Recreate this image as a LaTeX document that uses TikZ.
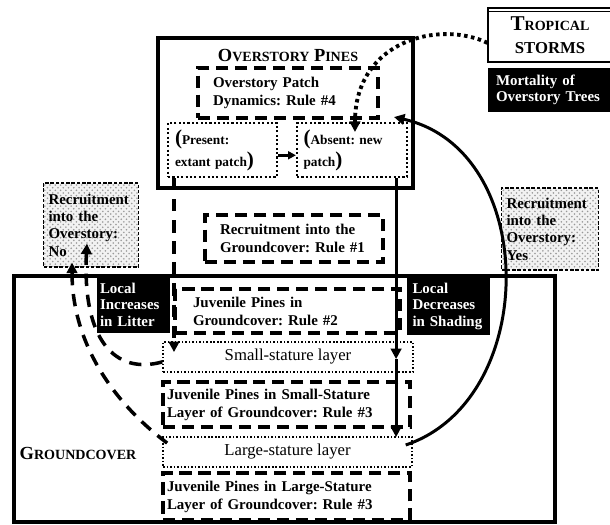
\documentclass[tikz,border=0pt]{standalone}
\usepackage{fontspec}
\setmainfont{Liberation Serif}
\usepackage{tikz}
\usetikzlibrary{arrows.meta}
\usetikzlibrary{patterns}
\frenchspacing
\newcommand{\capL}[1]{{\fontsize{10.5}{12}\selectfont #1}}
\newcommand{\capS}[1]{{\fontsize{8}{12}\selectfont #1}}
\newcommand{\paren}[1]{{\fontsize{12}{12}\selectfont #1}}
\tikzset{bigbox/.style = {draw, line width=2.3pt, inner sep=0}}
\tikzset{rulebox/.style = {draw, line width=1.8pt, dash pattern=on 7pt off 3.8pt,
                           font=\bfseries\fontsize{8.5}{10.2}\selectfont, align=left, inner ysep=0}}
\tikzset{patchbox/.style = {draw, line width=1.2pt, dash pattern=on 1.2pt off 1.3pt,
                            font=\bfseries\fontsize{7.6}{12.5}\selectfont, align=left, inner ysep=0}}
\tikzset{layerbox/.style = {draw, line width=0.9pt, dash pattern=on 0.9pt off 1.1pt,
                            font=\fontsize{9.5}{11}\selectfont, inner sep=0}}
\tikzset{blackbox/.style = {fill=black, text=white, font=\bfseries\fontsize{8.5}{9.4}\selectfont,
                            align=left, inner ysep=0}}
\tikzset{recbox/.style = {draw, line width=0.6pt, dash pattern=on 2pt off 1pt,
                          preaction={fill=black!5}, pattern=crosshatch dots, pattern color=black!40,
                          font=\bfseries\fontsize{8.5}{9.9}\selectfont, align=left, inner ysep=0}}
\tikzset{flowline/.style = {line width=1.7pt}}
\tikzset{flowdash/.style = {line width=2pt, dash pattern=on 7pt off 5pt}}
\tikzset{flowdot/.style = {line width=2.2pt, dash pattern=on 2pt off 2pt}}
\tikzset{flowtip/.style = {-{Triangle[length=6pt,width=6pt]}}}

\begin{document}
\begin{tikzpicture}[x=0.02cm, y=-0.02cm]
  \useasboundingbox (0,0) rectangle (610,525);

  \node[bigbox, minimum width=5.1cm, minimum height=3cm] (pines) at (285.5,113) {};
  \node[font=\bfseries] (pinestitle) at (288,55) {\capL{O}\capS{VERSTORY} \capL{P}\capS{INES}};
  \node[rulebox, text width=3cm, inner xsep=0.3cm, minimum height=1cm] (patch) at (288,93)
    {Overstory Patch\\Dynamics: Rule \#4};
  \node[patchbox, text width=1.9cm, inner xsep=0.14cm, minimum height=1.08cm] (present) at (222.5,150)
    {\paren{(}Present:\\extant patch\paren{)}};
  \node[patchbox, text width=1.94cm, inner xsep=0.13cm, minimum height=1.08cm] (absent) at (352,150)
    {\paren{(}Absent: new\\patch\paren{)}};

  \node[draw, line width=0.6pt, minimum width=2.48cm, minimum height=1.08cm, align=center,
        font=\bfseries\fontsize{9}{13}\selectfont] (storms) at (550,35)
    {{\fontsize{12}{13}\selectfont T}\capS{ROPICAL}\\{\fontsize{9.5}{13}\selectfont STORMS}};
  \draw[line width=0.6pt] ([yshift=-2.3pt]storms.north west) -- ([yshift=-2.3pt]storms.north east);
  \node[blackbox, text width=2.12cm, inner xsep=0.16cm, minimum height=0.88cm] (mortality) at (549,90)
    {Mortality of\\Overstory Trees};

  \node[recbox, text width=1.7cm, inner xsep=0.1cm, minimum height=1.68cm] (recno) at (91,225)
    {Recruitment\\into the\\Overstory:\\No};
  \node[recbox, text width=1.74cm, inner xsep=0.1cm, minimum height=1.64cm] (recyes) at (550,229)
    {Recruitment\\into the\\Overstory:\\Yes};
  \node[rulebox, text width=2.96cm, inner xsep=0.3cm, minimum height=0.94cm] (rule1) at (294,238.5)
    {Recruitment into the\\Groundcover: Rule \#1};

  \node[bigbox, minimum width=10.82cm, minimum height=4.92cm] (ground) at (284.5,399) {};
  \node[font=\bfseries] (groundtitle) at (78,453) {\capL{G}\capS{ROUNDCOVER}};
  \node[blackbox, text width=1.34cm, inner xsep=0.06cm, minimum height=1.14cm] (litter) at (133.5,304.5)
    {Local\\Increases\\in Litter};
  \node[blackbox, text width=1.44cm, inner xsep=0.11cm, minimum height=1.16cm] (shading) at (448.5,306)
    {Local\\Decreases\\in Shading};
  \node[rulebox, text width=3.78cm, inner xsep=0.36cm, minimum height=0.88cm] (juvground) at (287.5,311)
    {Juvenile Pines in\\Groundcover: Rule \#2};
  \node[layerbox, minimum width=5cm, minimum height=0.6cm] (small) at (288,357) {Small-stature layer};
  \node[rulebox, text width=4.78cm, inner xsep=0.08cm, minimum height=0.9cm] (juvsmall) at (286.5,404.5)
    {Juvenile Pines in Small-Stature\\Layer of Groundcover: Rule \#3};
  \node[layerbox, minimum width=4.98cm, minimum height=0.6cm] (large) at (287.5,452) {Large-stature layer};
  \node[rulebox, text width=4.78cm, inner xsep=0.08cm, minimum height=0.94cm] (juvlarge) at (286.5,496.5)
    {Juvenile Pines in Large-Stature\\Layer of Groundcover: Rule \#3};

  \coordinate (pa) at ([xshift=4pt]present.south west);
  \coordinate (pb) at ([xshift=-6.8pt]absent.south east);
  \draw[flowline, -{Triangle[length=4.5pt,width=4.5pt]}] ([yshift=-3pt]present.east) -- ([yshift=-3pt]absent.west);
  \draw[flowdash, flowtip] (pa) -- ([yshift=-6.2pt]small.north -| pa);
  \draw[flowline, flowtip] (pb) -- ([yshift=-10.2pt]small.north -| pb);
  \draw[flowline, flowtip] ([yshift=-10.2pt]small.north -| pb) -- ([yshift=-0.5pt]large.north -| pb);
  \draw[flowdot, flowtip] ([yshift=-4.5pt]storms.west) .. controls (440,20) and (355,40)
    .. ([xshift=1.7pt,yshift=-5.7pt]absent.north);
  \draw[flowline, flowtip] ([xshift=-4pt,yshift=4pt]large.east) .. controls (540,400) and (540,150)
    .. ([xshift=-8pt,yshift=2.8pt]absent.north east);
  \draw[flowdash, flowtip] ([yshift=-2.8pt]small.west) .. controls (115,375) and (82,340)
    .. ([xshift=-2.3pt,yshift=13.6pt]recno.south);
  \draw[flowdash, flowtip] ([xshift=2.8pt,yshift=5.1pt]large.west) .. controls (110,400) and (72,340)
    .. ([xshift=-10.8pt,yshift=2.8pt]recno.south);
\end{tikzpicture}
\end{document}
